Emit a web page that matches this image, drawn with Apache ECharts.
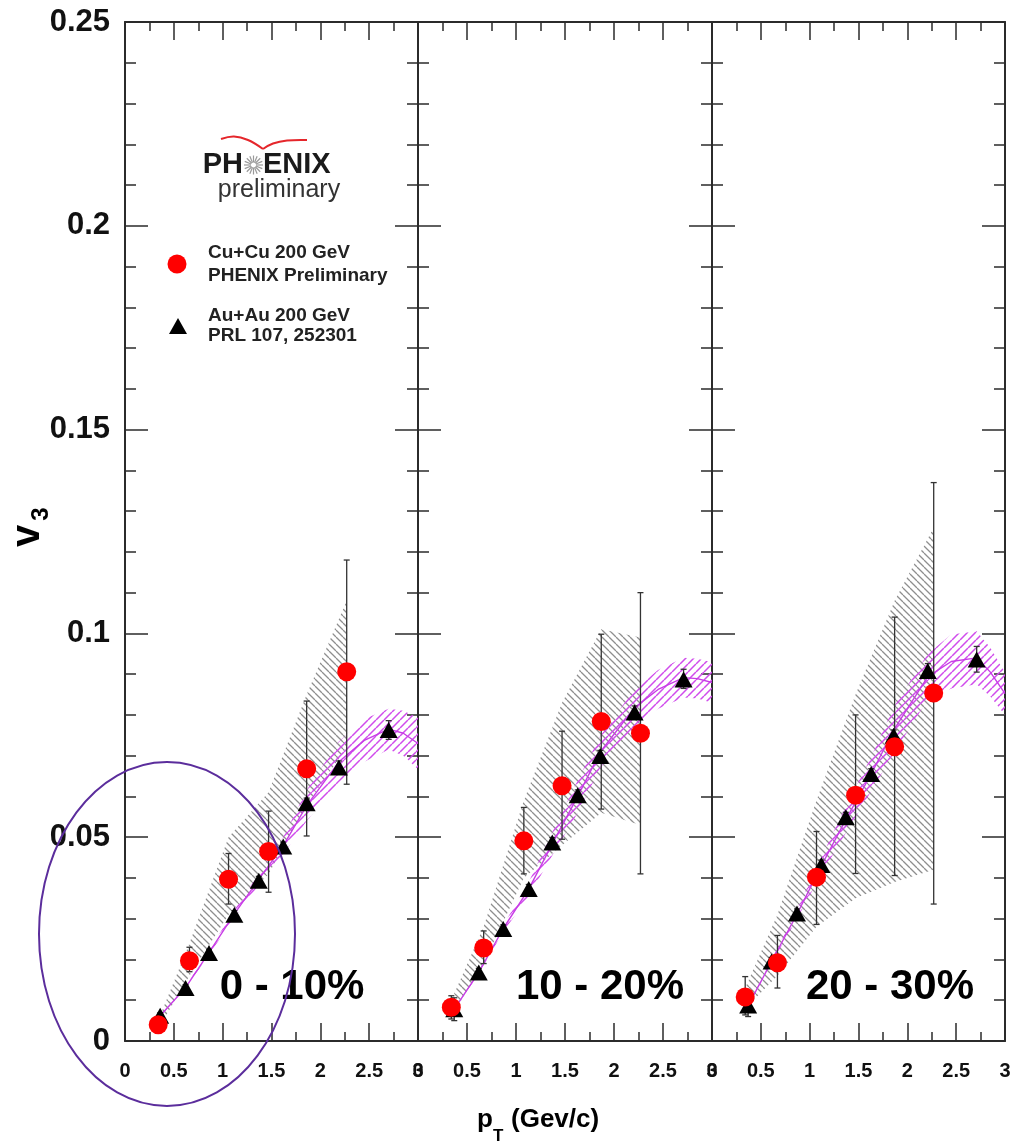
<!DOCTYPE html>
<html><head><meta charset="utf-8">
<script src="https://cdn.jsdelivr.net/npm/echarts/dist/echarts.min.js"></script>
<style>html,body{margin:0;padding:0;background:#fff}#c{width:1021px;height:1146px}</style>
</head><body><div id="c"></div>
<script>
// ---------------- data ----------------
const panelNames = ['0 - 10%', '10 - 20%', '20 - 30%'];
const legendCu = ['Cu+Cu 200 GeV', 'PHENIX Preliminary'];
const legendAu = ['Au+Au 200 GeV', 'PRL 107, 252301'];
const xTicks = [0, 0.5, 1, 1.5, 2, 2.5, 3];
const yTicks = [0, 0.05, 0.1, 0.15, 0.2, 0.25];

// Cu+Cu (red circles), one row per centrality panel
const cuX = [
  [0.34, 0.66, 1.06, 1.47, 1.86, 2.27],
  [0.34, 0.67, 1.08, 1.47, 1.87, 2.27],
  [0.34, 0.67, 1.07, 1.47, 1.87, 2.27]];
const cuV = [
  [0.0040, 0.0197, 0.0397, 0.0465, 0.0668, 0.0906],
  [0.0083, 0.0228, 0.0491, 0.0626, 0.0784, 0.0755],
  [0.0108, 0.0192, 0.0402, 0.0603, 0.0722, 0.0854]];
const cuErrLo = [
  [0.0030, 0.0170, 0.0336, 0.0365, 0.0503, 0.0630],
  [0.0054, 0.0190, 0.0410, 0.0495, 0.0569, 0.0410],
  [0.0064, 0.0130, 0.0286, 0.0411, 0.0406, 0.0336]];
const cuErrHi = [
  [0.0050, 0.0230, 0.0460, 0.0564, 0.0834, 0.1180],
  [0.0111, 0.0270, 0.0573, 0.0760, 0.0998, 0.1100],
  [0.0158, 0.0259, 0.0514, 0.0800, 0.1040, 0.1370]];
const cuSysLo = [
  [0.003, 0.016, 0.031, 0.041, 0.058, 0.072],
  [0.006, 0.019, 0.040, 0.048, 0.056, 0.053],
  [0.008, 0.016, 0.028, 0.035, 0.039, 0.042]];
const cuSysHi = [
  [0.005, 0.024, 0.050, 0.061, 0.085, 0.108],
  [0.010, 0.028, 0.059, 0.083, 0.101, 0.099],
  [0.013, 0.031, 0.059, 0.085, 0.108, 0.126]];

// Au+Au (black triangles)
const auX = [
  [0.36, 0.62, 0.86, 1.12, 1.37, 1.62, 1.86, 2.19, 2.70],
  [0.37, 0.62, 0.87, 1.13, 1.37, 1.63, 1.86, 2.21, 2.71],
  [0.37, 0.61, 0.87, 1.12, 1.37, 1.63, 1.86, 2.21, 2.71]];
const auV = [
  [0.0062, 0.0130, 0.0216, 0.0310, 0.0393, 0.0477, 0.0583, 0.0671, 0.0763],
  [0.0078, 0.0168, 0.0275, 0.0373, 0.0487, 0.0603, 0.0699, 0.0806, 0.0887],
  [0.0087, 0.0195, 0.0313, 0.0432, 0.0549, 0.0655, 0.0749, 0.0908, 0.0936]];
const auErrLo = [
  [0.0055, 0.0122, 0.0207, 0.0300, 0.0382, 0.0466, 0.0570, 0.0655, 0.0740],
  [0.0050, 0.0158, 0.0265, 0.0362, 0.0475, 0.0590, 0.0685, 0.0790, 0.0865],
  [0.0060, 0.0185, 0.0302, 0.0420, 0.0537, 0.0642, 0.0735, 0.0890, 0.0905]];
const auErrHi = [
  [0.0069, 0.0138, 0.0225, 0.0320, 0.0404, 0.0488, 0.0596, 0.0687, 0.0786],
  [0.0106, 0.0178, 0.0285, 0.0384, 0.0499, 0.0616, 0.0713, 0.0822, 0.0912],
  [0.0114, 0.0205, 0.0324, 0.0444, 0.0561, 0.0668, 0.0763, 0.0926, 0.0968]];
// Au+Au systematic band (magenta)
const auSysX = [
  [0.36, 0.62, 0.86, 1.12, 1.37, 1.62, 1.86, 2.19, 2.45, 2.70, 2.85, 3.00],
  [0.37, 0.62, 0.87, 1.13, 1.37, 1.63, 1.86, 2.21, 2.45, 2.71, 2.85, 3.00],
  [0.37, 0.61, 0.87, 1.12, 1.37, 1.63, 1.86, 2.21, 2.45, 2.71, 2.85, 3.00]];
const auSysLo = [
  [0.0060, 0.0128, 0.0212, 0.0302, 0.0383, 0.0458, 0.0540, 0.0635, 0.0685, 0.0715, 0.0700, 0.0667],
  [0.0076, 0.0165, 0.0268, 0.0355, 0.0455, 0.0560, 0.0670, 0.0773, 0.0815, 0.0843, 0.0840, 0.0830],
  [0.0085, 0.0190, 0.0300, 0.0410, 0.0510, 0.0613, 0.0706, 0.0838, 0.0865, 0.0875, 0.0845, 0.0800]];
const auSysHi = [
  [0.0064, 0.0134, 0.0222, 0.0322, 0.0410, 0.0500, 0.0615, 0.0735, 0.0790, 0.0815, 0.0810, 0.0793],
  [0.0080, 0.0172, 0.0284, 0.0390, 0.0512, 0.0640, 0.0748, 0.0863, 0.0910, 0.0940, 0.0938, 0.0929],
  [0.0089, 0.0200, 0.0322, 0.0450, 0.0576, 0.0697, 0.0819, 0.0950, 0.0997, 0.1005, 0.0965, 0.0904]];

// ---------------- styling / layout ----------------
const FONT = "'Liberation Sans', Arial, Helvetica, sans-serif";
const AXC = '#2b2b2b';
const panelLeft = [125, 418, 712];
const panelWidth = [293, 294, 293];
const GTOP = 22, GH = 1019;

function hatch(color, dir, s, lw) {
  const c = document.createElement('canvas');
  c.width = s; c.height = s;
  const g = c.getContext('2d');
  g.strokeStyle = color; g.lineWidth = lw;
  g.beginPath();
  for (let k = -1; k <= 1; k++) {
    if (dir === 'back') { g.moveTo(k * s, 0); g.lineTo(k * s + s, s); }
    else { g.moveTo(k * s, s); g.lineTo(k * s + s, 0); }
  }
  g.stroke();
  return { image: c, repeat: 'repeat' };
}
const grayHatch = hatch('#8e8e8e', 'back', 7, 1.3);
const magHatch = hatch('#d04cec', 'fwd', 8, 1.5);

const grids = [], xAxes = [], yAxes = [], series = [];
for (let i = 0; i < 3; i++) {
  grids.push({ left: panelLeft[i], top: GTOP, width: panelWidth[i], height: GH });
}
function xAx(i, top) {
  return {
    type: 'value', gridIndex: i, min: xTicks[0], max: xTicks[xTicks.length - 1], interval: 0.5,
    position: top ? 'top' : 'bottom',
    axisLine: { show: true, onZero: false, lineStyle: { color: AXC, width: 2 } },
    axisTick: { show: true, inside: true, length: 18, lineStyle: { color: AXC, width: 1.5 } },
    minorTick: { show: true, splitNumber: 2, length: 9, lineStyle: { color: AXC, width: 1.5 } },
    splitLine: { show: false }, minorSplitLine: { show: false },
    axisLabel: { show: !top, margin: 20, fontSize: 20, fontWeight: 'bold', color: '#111', fontFamily: FONT,
      showMinLabel: true, showMaxLabel: true, hideOverlap: false, formatter: v => String(v) }
  };
}
function yAx(i, right) {
  return {
    type: 'value', gridIndex: i, min: yTicks[0], max: yTicks[yTicks.length - 1], interval: 0.05,
    position: right ? 'right' : 'left',
    axisLine: { show: true, onZero: false, lineStyle: { color: AXC, width: 2 } },
    axisTick: { show: true, inside: true, length: 23, lineStyle: { color: AXC, width: 1.5 } },
    minorTick: { show: true, splitNumber: 5, length: 11, lineStyle: { color: AXC, width: 1.5 } },
    splitLine: { show: false }, minorSplitLine: { show: false },
    axisLabel: { show: (i === 0 && !right), margin: 15, fontSize: 31, fontWeight: 'bold', color: '#111', fontFamily: FONT,
      showMinLabel: true, showMaxLabel: true, hideOverlap: false, formatter: v => String(+v.toFixed(3)) }
  };
}
for (let i = 0; i < 3; i++) { xAxes.push(xAx(i, false)); yAxes.push(yAx(i, false)); }
for (let i = 0; i < 3; i++) { xAxes.push(xAx(i, true)); yAxes.push(yAx(i, true)); }

function bandSeries(i, xs, lo, hi, fill, z) {
  return {
    type: 'custom', xAxisIndex: i, yAxisIndex: i, z: z, silent: true,
    encode: { x: 0, y: [1, 2] },
    data: xs.map((x, k) => [x, lo[k], hi[k]]),
    renderItem: (params, api) => {
      if (params.dataIndex !== 0) return null;
      const top = xs.map((x, k) => api.coord([x, hi[k]]));
      const bot = xs.map((x, k) => api.coord([x, lo[k]])).reverse();
      return { type: 'polygon', shape: { points: top.concat(bot) }, style: { fill: fill, stroke: null } };
    }
  };
}
function errSeries(i, xs, lo, hi, z, color) {
  return {
    type: 'custom', xAxisIndex: i, yAxisIndex: i, z: z, silent: true,
    encode: { x: 0, y: [1, 2] },
    data: xs.map((x, k) => [x, lo[k], hi[k]]),
    renderItem: (params, api) => {
      const a = api.coord([api.value(0), api.value(1)]);
      const b = api.coord([api.value(0), api.value(2)]);
      const w = 3, st = { stroke: color, lineWidth: 1.3 };
      return { type: 'group', children: [
        { type: 'line', shape: { x1: a[0], y1: a[1], x2: b[0], y2: b[1] }, style: st },
        { type: 'line', shape: { x1: a[0] - w, y1: a[1], x2: a[0] + w, y2: a[1] }, style: st },
        { type: 'line', shape: { x1: b[0] - w, y1: b[1], x2: b[0] + w, y2: b[1] }, style: st }
      ] };
    }
  };
}
for (let i = 0; i < 3; i++) {
  series.push(bandSeries(i, cuX[i], cuSysLo[i], cuSysHi[i], grayHatch, 1));
  series.push(bandSeries(i, auSysX[i], auSysLo[i], auSysHi[i], magHatch, 2));
  series.push({
    type: 'line', xAxisIndex: i, yAxisIndex: i, z: 3, silent: true, showSymbol: false, symbol: 'none',
    lineStyle: { color: '#c83de6', width: 1.4 },
    data: auSysX[i].map((x, k) => [x, (auSysLo[i][k] + auSysHi[i][k]) / 2])
  });
  series.push(errSeries(i, auX[i], auErrLo[i], auErrHi[i], 4, '#333'));
  series.push(errSeries(i, cuX[i], cuErrLo[i], cuErrHi[i], 4, '#333'));
  series.push({
    type: 'scatter', xAxisIndex: i, yAxisIndex: i, z: 5, silent: true,
    symbol: 'triangle', symbolSize: [18, 16], itemStyle: { color: '#000', opacity: 1 },
    data: auX[i].map((x, k) => [x, auV[i][k]])
  });
  series.push({
    type: 'scatter', xAxisIndex: i, yAxisIndex: i, z: 6, silent: true,
    symbol: 'circle', symbolSize: 19, itemStyle: { color: '#ff0000', opacity: 1 },
    data: cuX[i].map((x, k) => [x, cuV[i][k]])
  });
}

// ---------------- annotations ----------------
const graphic = [];
const labelX = [292, 600, 890];
for (let i = 0; i < 3; i++) {
  graphic.push({ type: 'text', x: labelX[i], y: 987, z: 10,
    style: { text: panelNames[i], font: 'bold 42px ' + FONT, fill: '#000', textAlign: 'center', textVerticalAlign: 'middle' } });
}
// axis titles
graphic.push({ type: 'text', x: 28, y: 536, rotation: Math.PI / 2, z: 10,
  style: { text: 'v', font: 'bold 40px ' + FONT, fill: '#000', textAlign: 'center', textVerticalAlign: 'middle' } });
graphic.push({ type: 'text', x: 41, y: 514, rotation: Math.PI / 2, z: 10,
  style: { text: '3', font: 'bold 24px ' + FONT, fill: '#000', textAlign: 'center', textVerticalAlign: 'middle' } });
graphic.push({ type: 'text', x: 477, y: 1120, z: 10,
  style: { text: 'p', font: 'bold 26px ' + FONT, fill: '#000', textAlign: 'left', textVerticalAlign: 'middle' } });
graphic.push({ type: 'text', x: 493, y: 1136, z: 10,
  style: { text: 'T', font: 'bold 17px ' + FONT, fill: '#000', textAlign: 'left', textVerticalAlign: 'middle' } });
graphic.push({ type: 'text', x: 511, y: 1120, z: 10,
  style: { text: '(Gev/c)', font: 'bold 26px ' + FONT, fill: '#000', textAlign: 'left', textVerticalAlign: 'middle' } });
// legend
graphic.push({ type: 'circle', z: 10, shape: { cx: 177, cy: 264, r: 9.5 }, style: { fill: '#ff0000' } });
graphic.push({ type: 'polygon', z: 10, shape: { points: [[178, 318], [187, 334], [169, 334]] }, style: { fill: '#000' } });
graphic.push({ type: 'text', x: 208, y: 253, z: 10, style: { text: legendCu[0], font: 'bold 19px ' + FONT, fill: '#222', textVerticalAlign: 'middle' } });
graphic.push({ type: 'text', x: 208, y: 276, z: 10, style: { text: legendCu[1], font: 'bold 19px ' + FONT, fill: '#222', textVerticalAlign: 'middle' } });
graphic.push({ type: 'text', x: 208, y: 316, z: 10, style: { text: legendAu[0], font: 'bold 19px ' + FONT, fill: '#222', textVerticalAlign: 'middle' } });
graphic.push({ type: 'text', x: 208, y: 336, z: 10, style: { text: legendAu[1], font: 'bold 19px ' + FONT, fill: '#222', textVerticalAlign: 'middle' } });
// PHENIX logo
graphic.push({ type: 'text', x: 243, y: 165, z: 10, style: { text: 'PH', font: 'bold 29px ' + FONT, fill: '#1a1a1a', textAlign: 'right', textVerticalAlign: 'middle' } });
graphic.push({ type: 'text', x: 263, y: 165, z: 10, style: { text: 'ENIX', font: 'bold 29px ' + FONT, fill: '#1a1a1a', textAlign: 'left', textVerticalAlign: 'middle' } });
graphic.push({ type: 'text', x: 279, y: 190, z: 10, style: { text: 'preliminary', font: '25px ' + FONT, fill: '#333', textAlign: 'center', textVerticalAlign: 'middle' } });
for (let k = 0; k < 16; k++) {
  const a = k * Math.PI / 8;
  graphic.push({ type: 'line', z: 10, shape: { x1: 253.5 + 2.5 * Math.cos(a), y1: 165 + 2.5 * Math.sin(a), x2: 253.5 + 9.5 * Math.cos(a), y2: 165 + 9.5 * Math.sin(a) },
    style: { stroke: '#9a9a9a', lineWidth: 1.2 } });
}
graphic.push({ type: 'polyline', z: 10, shape: { points: [[221, 139], [234, 136.5], [248, 140], [263, 149]], smooth: 0.4 }, style: { stroke: '#e5262b', lineWidth: 2, fill: null } });
graphic.push({ type: 'polyline', z: 10, shape: { points: [[263, 149], [273, 143.5], [287, 140.5], [307, 140]], smooth: 0.4 }, style: { stroke: '#e5262b', lineWidth: 2, fill: null } });
// purple ellipse annotation
graphic.push({ type: 'ellipse', z: 20, shape: { cx: 167, cy: 934, rx: 128, ry: 172 }, style: { fill: null, stroke: '#5b2d9c', lineWidth: 2 } });

const chart = echarts.init(document.getElementById('c'), null, { renderer: 'canvas' });
chart.setOption({
  backgroundColor: '#fff',
  animation: false,
  grid: grids, xAxis: xAxes, yAxis: yAxes, series: series, graphic: graphic
});
</script></body></html>
